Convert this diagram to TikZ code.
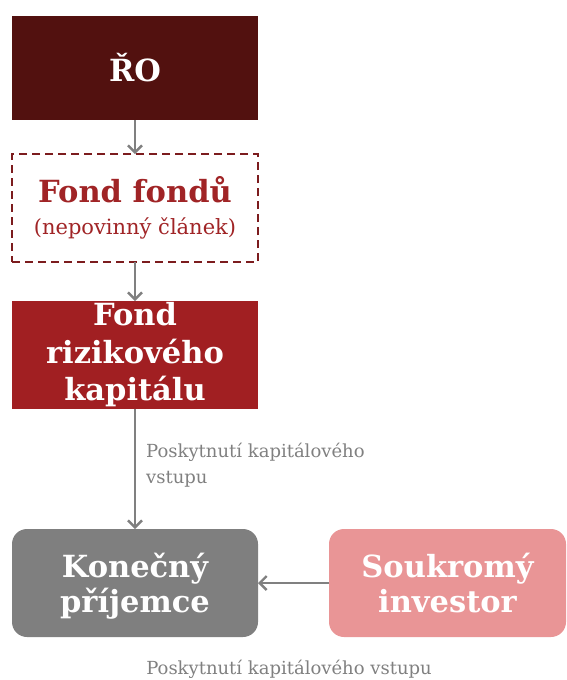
\documentclass[tikz,border=0pt]{standalone}
\usepackage{fontspec}
\setmainfont{DejaVu Serif}
\usetikzlibrary{positioning,arrows.meta}
\definecolor{roRed}{HTML}{52110F}
\definecolor{fondRed}{HTML}{A11F22}
\definecolor{dashRed}{HTML}{7C1C1E}
\definecolor{titleRed}{HTML}{A02426}
\definecolor{boxGray}{HTML}{7F7F7F}
\definecolor{pinkBox}{HTML}{E99596}
\definecolor{lineGray}{HTML}{808080}
\tikzset{>={Straight Barb[length=7pt,width=14pt]},
  box/.style={minimum width=246pt,minimum height=108pt,inner sep=0pt,outer sep=0pt,align=center,
    text=white,font=\bfseries\fontsize{30.5}{37.5}\selectfont},
  roundbox/.style={box,rounded corners=15pt},
  flow/.style={->,draw=lineGray,line width=2.4pt},
  note/.style={text=lineGray,font=\fontsize{18}{26}\selectfont,inner sep=0pt}
}
\begin{document}
\begin{tikzpicture}[x=1pt,y=-1pt]
\useasboundingbox (0,0) rectangle (566,680);
% boxes
\node[box,fill=roRed,minimum height=104pt] (ro) at (135,68) {ŘO};
\node[box,draw=dashRed,line width=2pt,dash pattern=on 8pt off 5pt,below=34pt of ro,text=titleRed] (ff)
  {Fond fondů\\[-5pt]{\mdseries\fontsize{21}{26}\selectfont(nepovinný článek)}};
\node[box,fill=fondRed,below=39pt of ff] (frk) {Fond\\rizikového\\kapitálu};
\node[roundbox,fill=boxGray,below=120pt of frk,text depth=0pt] (kp) {Konečný\\[-2pt]příjemce};
\node[roundbox,fill=pinkBox,minimum width=237pt] (si) at (447.5,583) {Soukromý\\[-2pt]investor};
% connectors
\draw[flow] (ro) -- (ff);
\draw[flow] (ff) -- (frk);
\draw[flow] (frk) -- node[note,right=10pt,align=left,pos=0.47]{Poskytnutí kapitálového\\vstupu} (kp);
\draw[flow] (si) -- (kp);
\node[note] (pkv) at (289,669) {Poskytnutí kapitálového vstupu};
\end{tikzpicture}
\end{document}
